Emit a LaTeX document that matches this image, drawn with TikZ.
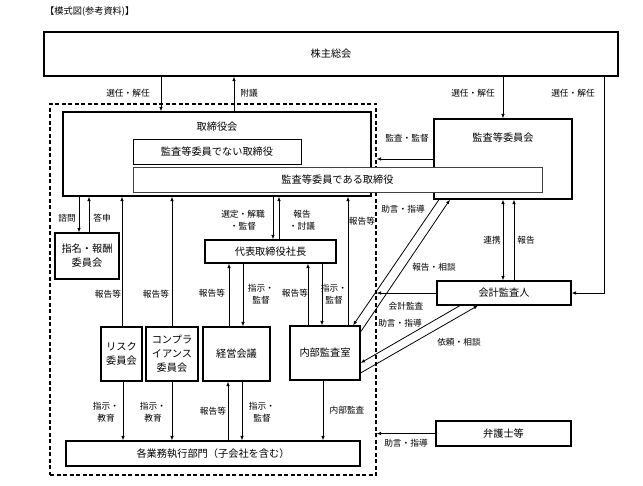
\documentclass[tikz,border=0pt]{standalone}
\usepackage{fontspec}
\setmainfont{Noto Sans CJK JP}
\usetikzlibrary{arrows.meta}
\begin{document}
\begin{tikzpicture}[x=1pt,y=-1pt,
  box/.style={draw, line width=1.1pt, inner sep=0pt, fill=white, font=\fontsize{10.2}{14}\selectfont, align=center},
  ibox/.style={draw, line width=0.6pt, inner sep=0pt, fill=white, font=\fontsize{10.2}{14}\selectfont, align=center},
  txt/.style={font=\fontsize{10.2}{14}\selectfont, inner sep=0pt},
  lbl/.style={font=\fontsize{8.7}{12.5}\selectfont, align=center, inner sep=0pt},
  arr/.style={line width=0.8pt, -{Latex[length=4.5pt,width=3.5pt]}},
  darr/.style={line width=0.8pt, {Latex[length=4.5pt,width=3.5pt]}-{Latex[length=4.5pt,width=3.5pt]}},
]
\useasboundingbox (0,0) rectangle (643,486);

\node[font=\fontsize{9.2}{12}\selectfont, anchor=west, inner sep=0pt] (title) at (45,12) {【模式図(参考資料)】};

% boxes
\node[box, minimum width=574pt, minimum height=44pt] (kabu) at (331,54) {株主総会};
\node[draw, dash pattern=on 4pt off 2.5pt, line width=1.1pt, minimum width=326pt, minimum height=371pt, inner sep=0pt] (exec) at (213,289.5) {};
\node[box, minimum width=308pt, minimum height=84pt] (tori) at (217,154) {};
\node[txt] (toritxt) at (217,127) {取締役会};
\node[box, minimum width=138pt, minimum height=80pt] (kansa) at (503,159) {};
\node[txt] (kansatxt) at (503,138) {監査等委員会};
\node[ibox, minimum width=168pt, minimum height=25pt] (nonaud) at (217,151.5) {監査等委員でない取締役};
\node[ibox, draw=black!75, minimum width=409pt, minimum height=25pt] (aud) at (337.5,179.5) {監査等委員である取締役};

\node[box, minimum width=64pt, minimum height=46pt] (shimei) at (87,256) {指名・報酬\\委員会};
\node[box, minimum width=131pt, minimum height=23pt] (daihyo) at (270.5,251.5) {代表取締役社長};
\node[box, minimum width=41pt, minimum height=54pt] (risk) at (121.5,354) {リスク\\委員会};
\node[box, minimum width=52pt, minimum height=54pt] (comp) at (172,354) {コンプラ\\イアンス\\委員会};
\node[box, minimum width=67pt, minimum height=54pt] (keiei) at (236.5,354) {経営会議};
\node[box, minimum width=70pt, minimum height=54pt] (naibu) at (325,353) {内部監査室};
\node[box, minimum width=294pt, minimum height=25pt] (gyomu) at (213,453.5) {各業務執行部門（子会社を含む）};
\node[box, minimum width=134pt, minimum height=24pt] (kaikei) at (504,293) {会計監査人};
\node[box, minimum width=135pt, minimum height=25pt] (bengo) at (503.5,433.5) {弁護士等};

% connectors
\draw[arr] (kabu.south -| 161,0) -- (tori.north -| 161,0);
\draw[arr] (tori.north -| 234,0) -- (kabu.south -| 234,0);
\draw[arr] (kabu.south -| 503,0) -- (kansa.north);
\draw[arr] (kabu.south -| 604,0) |- (kaikei.east);
\draw[arr] (kansa.west) -- (kansa.west -| exec.east);

\draw[arr] (tori.south -| 79,0) -- (shimei.north -| 79,0);
\draw[arr] (shimei.north -| 89,0) -- (tori.south -| 89,0);
\draw[arr] (risk.north -| 122,0) -- (tori.south -| 122,0);
\draw[arr] (comp.north) -- (tori.south -| comp.north);
\draw[arr] (tori.south -| 273,0) -- (daihyo.north -| 273,0);
\draw[arr] (daihyo.north -| 279,0) -- (tori.south -| 279,0);
\draw[arr] (keiei.north -| 229,0) -- (daihyo.south -| 229,0);
\draw[arr] (daihyo.south -| 243,0) -- (keiei.north -| 243,0);
\draw[arr] (naibu.north -| 308,0) -- (daihyo.south -| 308,0);
\draw[arr] (daihyo.south -| 322,0) -- (naibu.north -| 322,0);
\draw[arr] (naibu.north -| 348,0) -- (tori.south -| 348,0);

\draw[arr] (kansa.south -| 439,0) -- (naibu.north -| 353,0);
\draw[arr] (naibu.east |- 0,332) -- (kansa.south -| 450,0);
\draw[arr] (kaikei.south -| 460,0) -- (naibu.east |- 0,363);
\draw[arr] (naibu.east |- 0,373) -- (kaikei.south -| 478,0);
\draw[darr] (kansa.south -| 503,0) -- (kaikei.north -| 503,0);
\draw[arr] (kaikei.north -| 514,0) -- (kansa.south -| 514,0);
\draw[arr] (kaikei.west) -- (kaikei.west -| exec.east);
\draw[arr] (bengo.west) -- (bengo.west -| exec.east);

\draw[arr] (risk.south -| 123,0) -- (gyomu.north -| 123,0);
\draw[arr] (comp.south) -- (gyomu.north -| comp.south);
\draw[arr] (gyomu.north -| 228,0) -- (keiei.south -| 228,0);
\draw[arr] (keiei.south -| 242,0) -- (gyomu.north -| 242,0);
\draw[arr] (naibu.south -| 323,0) -- (gyomu.north -| 323,0);

% labels
\node[lbl] (l1) at (128,93) {選任・解任};
\node[lbl] (l2) at (249,93) {附議};
\node[lbl] (l3) at (473,93) {選任・解任};
\node[lbl] (l4) at (573,93) {選任・解任};
\node[lbl] (l5) at (407,138) {監査・監督};
\node[lbl] (l6) at (67,218) {諮問};
\node[lbl] (l7) at (102,218) {答申};
\node[lbl] (l8) at (243,220) {選定・解職\\・監督};
\node[lbl] (l9) at (302,220) {報告\\・討議};
\node[lbl] (l10) at (362,221) {報告等};
\node[lbl] (l11) at (403,209) {助言・指導};
\node[lbl] (l12) at (434,267) {報告・相談};
\node[lbl] (l13) at (492,240) {連携};
\node[lbl] (l14) at (526,240) {報告};
\node[lbl] (l15) at (108,294) {報告等};
\node[lbl] (l16) at (156,294) {報告等};
\node[lbl] (l17) at (212,293) {報告等};
\node[lbl] (l18) at (261,294) {指示・\\監督};
\node[lbl] (l19) at (295,293) {報告等};
\node[lbl] (l20) at (334,294) {指示・\\監督};
\node[lbl] (l21) at (406,306) {会計監査};
\node[lbl] (l22) at (400,323) {助言・指導};
\node[lbl] (l23) at (459,342) {依頼・相談};
\node[lbl] (l24) at (106,412) {指示・\\教育};
\node[lbl] (l25) at (153,412) {指示・\\教育};
\node[lbl] (l26) at (213,411) {報告等};
\node[lbl] (l27) at (262,412) {指示・\\監督};
\node[lbl] (l28) at (347,410) {内部監査};
\node[lbl] (l29) at (406,443) {助言・指導};
\end{tikzpicture}
\end{document}
